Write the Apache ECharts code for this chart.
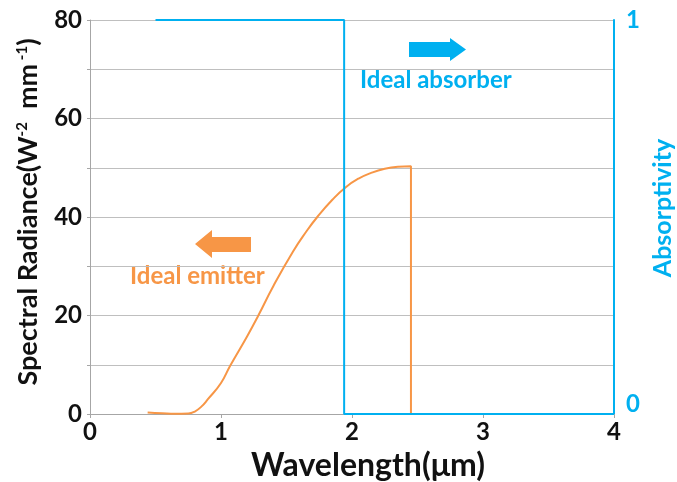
<!DOCTYPE html>
<html>
<head>
<meta charset="utf-8">
<script src="https://cdn.jsdelivr.net/npm/echarts@6/dist/echarts.min.js"></script>
<style>
  html, body { margin: 0; padding: 0; background: #fff; }
  #chart { width: 677px; height: 482px; }
</style>
</head>
<body>
<div id="chart"></div>
<script>
// emitter curve (wavelength um, spectral radiance)
var emitterX = [0.44, 0.55, 0.65, 0.75, 0.8, 0.85, 0.9, 1.0, 1.07, 1.2, 1.285, 1.4, 1.55, 1.65, 1.735, 1.85, 1.95, 2.05, 2.15, 2.25, 2.35, 2.45, 2.45];
var emitterY = [0.3, 0.15, 0.05, 0.1, 0.5, 1.5, 3, 6.3, 9.8, 15.8, 20, 26, 33, 37, 40, 43.5, 46, 47.8, 49, 49.8, 50.2, 50.3, 0];

// absorber step (wavelength um, absorptivity)
var absorberX = [0.5, 1.94, 1.94, 4];
var absorberY = [1, 1, 0, 0];

var yTicks = [0, 20, 40, 60, 80];

var orange = '#F79646';
var blue = '#00B0F0';
var font = 'Lato, "Open Sans", sans-serif';

function pairs(xs, ys) {
    var out = [];
    for (var i = 0; i < xs.length; i++) out.push([xs[i], ys[i]]);
    return out;
}

var option = {
    animation: false,
    grid: { left: 90, right: 63, top: 20, bottom: 68, outerBoundsMode: 'none' },
    xAxis: {
        type: 'value',
        min: 0, max: 4, interval: 1,
        name: 'Wavelength(μm)',
        nameLocation: 'middle',
        nameGap: 36,
        nameTextStyle: { fontFamily: font, fontWeight: 'bold', fontSize: 32, color: '#111', padding: [0, 0, 0, 32] },
        axisLine: { lineStyle: { color: '#A6A6A6', width: 1 } },
        axisTick: { show: true, length: 4, lineStyle: { color: '#A6A6A6' } },
        axisLabel: { fontFamily: font, fontWeight: 'bold', fontSize: 24, color: '#111', margin: 6 },
        splitLine: { show: false }
    },
    yAxis: [{
        type: 'value',
        min: 0, max: 80, interval: 10,
        name: '{t|Spectral Radiance(W}{s|-2}{t|  mm}{s| -1}{t|)}',
        nameLocation: 'middle',
        nameGap: 48,
        nameRotate: 90,
        nameTextStyle: {
            padding: [0, 0, 0, 10],
            rich: {
                t: { fontFamily: font, fontWeight: 'bold', fontSize: 27, color: '#111' },
                s: { fontFamily: font, fontWeight: 'bold', fontSize: 15, color: '#111', verticalAlign: 'top' }
            }
        },
        axisLine: { show: true, lineStyle: { color: '#A6A6A6', width: 1 } },
        axisTick: { show: true, length: 3, lineStyle: { color: '#A6A6A6' } },
        axisLabel: {
            fontFamily: font, fontWeight: 'bold', fontSize: 24, color: '#111', margin: 8,
            formatter: function (v) { return yTicks.indexOf(v) >= 0 ? String(v) : ''; }
        },
        splitLine: { show: true, lineStyle: { color: '#BFBFBF', width: 1 } }
    }, {
        type: 'value',
        min: 0, max: 1, interval: 1,
        position: 'right',
        name: 'Absorptivity',
        nameLocation: 'middle',
        nameGap: 32,
        nameRotate: 90,
        nameTextStyle: { fontFamily: font, fontWeight: 'bold', fontSize: 25, color: blue, padding: [0, 0, 0, 18] },
        axisLine: { show: true, lineStyle: { color: blue, width: 2 } },
        axisTick: { show: false },
        axisLabel: {
            fontFamily: font, fontWeight: 'bold', fontSize: 24, color: blue, margin: 12,
            formatter: function (v) { return v === 0 ? '{z|0}' : '1'; },
            rich: { z: { fontFamily: font, fontWeight: 'bold', fontSize: 24, color: blue, padding: [0, 0, 20, 0] } }
        },
        splitLine: { show: false }
    }],
    series: [{
        type: 'line',
        yAxisIndex: 0,
        data: pairs(emitterX, emitterY),
        smooth: 0.5,
        showSymbol: false,
        lineStyle: { color: orange, width: 2 }
    }, {
        type: 'line',
        yAxisIndex: 1,
        data: pairs(absorberX, absorberY),
        showSymbol: false,
        lineStyle: { color: blue, width: 2 }
    }],
    graphic: [{
        type: 'polygon',
        shape: { points: [[409, 42], [450, 42], [450, 38], [466, 49.5], [450, 61], [450, 57], [409, 57]] },
        style: { fill: blue }
    }, {
        type: 'text',
        left: 360, top: 68,
        style: { text: 'Ideal absorber', fill: blue, font: 'bold 24px ' + font }
    }, {
        type: 'polygon',
        shape: { points: [[251, 237], [212, 237], [212, 230], [195, 244], [212, 258], [212, 252], [251, 252]] },
        style: { fill: orange }
    }, {
        type: 'text',
        left: 130, top: 264,
        style: { text: 'Ideal emitter', fill: orange, font: 'bold 24px ' + font }
    }]
};

var chart = echarts.init(document.getElementById('chart'));
chart.setOption(option);
</script>
</body>
</html>
